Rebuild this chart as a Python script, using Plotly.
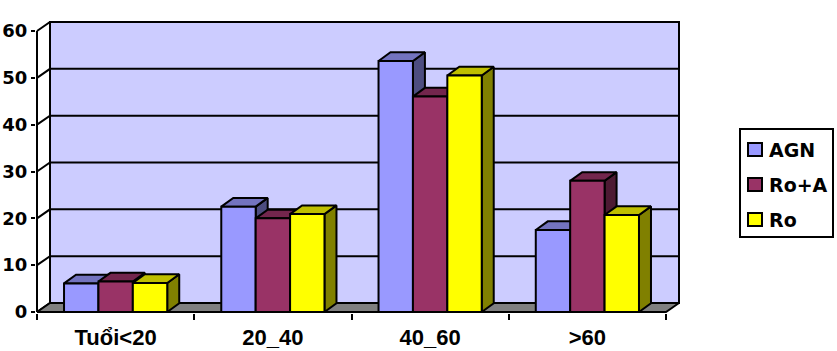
import plotly.graph_objects as go

# ---------------- data ----------------
categories = ["Tuổi<20", "20_40", "40_60", ">60"]
series_names = ["AGN", "Ro+A", "Ro"]
agn = [6.1, 22.5, 53.6, 17.5]
ro_a = [6.5, 20.0, 46.0, 28.0]
ro = [6.2, 20.9, 50.5, 20.7]
y_ticks = [0, 10, 20, 30, 40, 50, 60]

values = [agn, ro_a, ro]
front_colors = ["#9999FF", "#993366", "#FFFF00"]
top_colors = ["#7373BF", "#73264D", "#BFBF00"]
side_colors = ["#4D4D80", "#4D1A33", "#808000"]

# ---------------- geometry (axis units) ----------------
PXX = 157.25          # px per category unit
PXY = 4.683           # px per y unit
dxw, dyw = 13 / PXX, 9 / PXY      # wall/floor depth offset
dxb, dyb = 12 / PXX, 8.7 / PXY    # bar depth offset
bw = 34.4 / PXX                   # bar width
x_lo, x_hi = -0.5, len(categories) - 0.5
y_top = y_ticks[-1]
padx, pady = 1 / PXX, 1 / PXY

fig = go.Figure()

def poly(xs, ys, fill, width=2, color="black"):
    fig.add_trace(go.Scatter(x=xs, y=ys, mode="lines", fill="toself" if fill else None,
                             fillcolor=fill, line=dict(color=color, width=width),
                             hoverinfo="skip", showlegend=False))

# back wall
poly([x_lo + dxw, x_hi + dxw, x_hi + dxw, x_lo + dxw, x_lo + dxw],
     [dyw, dyw, y_top + dyw, y_top + dyw, dyw], "#CCCCFF")
# gridlines on back wall and side wall diagonals
gx, gy = [], []
for t in y_ticks:
    gx += [x_lo, x_lo + dxw, x_hi + dxw, None]
    gy += [t, t + dyw, t + dyw, None]
poly(gx, gy, None)
# floor
poly([x_lo, x_hi, x_hi + dxw, x_lo + dxw, x_lo], [0, 0, dyw, dyw, 0], "#808080")
# front left axis line
poly([x_lo, x_lo], [0, y_top], None)

# bars
for j in range(len(series_names)):
    fx, fy, tx, ty, sx, sy = [], [], [], [], [], []
    for i, v in enumerate(values[j]):
        x0 = i - 1.5 * bw + j * bw
        x1 = x0 + bw
        fx += [x0, x1, x1, x0, x0, None]
        fy += [0, 0, v, v, 0, None]
        tx += [x0, x1, x1 + dxb, x0 + dxb, x0, None]
        ty += [v, v, v + dyb, v + dyb, v, None]
        sx += [x1, x1 + dxb, x1 + dxb, x1, x1, None]
        sy += [0, dyb, v + dyb, v, 0, None]
    poly(sx, sy, side_colors[j])
    poly(tx, ty, top_colors[j])
    poly(fx, fy, front_colors[j])

# ---------------- layout ----------------
L, R, T, B = 36, 680, 21, 313
W, H = 837, 351

fig.update_layout(
    width=W, height=H, autosize=False,
    margin=dict(l=L, r=W - R, t=T, b=H - B),
    paper_bgcolor="white", plot_bgcolor="white",
    showlegend=False,
    xaxis=dict(range=[x_lo - padx, x_hi + dxw + padx], showgrid=False, zeroline=False,
               showline=False, automargin=False,
               tickvals=list(range(len(categories))), ticktext=categories,
               ticks="", ticklabelstandoff=9,
               tickfont=dict(family="Liberation Sans", size=22, color="black", weight="bold"),
               minor=dict(tickvals=[x_lo + k for k in range(len(categories) + 1)],
                          ticks="outside", ticklen=6, tickwidth=2, tickcolor="black",
                          showgrid=False)),
    yaxis=dict(range=[-pady, y_top + dyw + pady], showgrid=False, zeroline=False,
               showline=False, automargin=False,
               tickvals=y_ticks, ticks="outside", ticklen=4, tickwidth=2,
               tickcolor="black", ticklabelstandoff=0,
               tickfont=dict(family="DejaVu Sans", size=18, color="black", weight="bold")),
)

# ---------------- legend (manual) ----------------
def px2paper(px, py):
    return (px - L) / (R - L), (B - py) / (B - T)

bx0, by0 = px2paper(740, 129)
bx1, by1 = px2paper(833, 237)
fig.add_shape(type="rect", xref="paper", yref="paper", x0=bx0, y0=by1, x1=bx1, y1=by0,
              line=dict(color="black", width=2), fillcolor="white")
for k, name in enumerate(series_names):
    cy = 150 + 35 * k
    sx0, sy0 = px2paper(748, cy - 7)
    sx1, sy1 = px2paper(762, cy + 6)
    fig.add_shape(type="rect", xref="paper", yref="paper", x0=sx0, y0=sy1, x1=sx1, y1=sy0,
                  line=dict(color="black", width=2), fillcolor=front_colors[k])
    ax, ay = px2paper(767, cy)
    fig.add_annotation(xref="paper", yref="paper", x=ax, y=ay, text=name, showarrow=False,
                       xanchor="left", yanchor="middle",
                       font=dict(family="DejaVu Sans", size=19, color="black", weight="bold"))

fig.write_html("out.html")
